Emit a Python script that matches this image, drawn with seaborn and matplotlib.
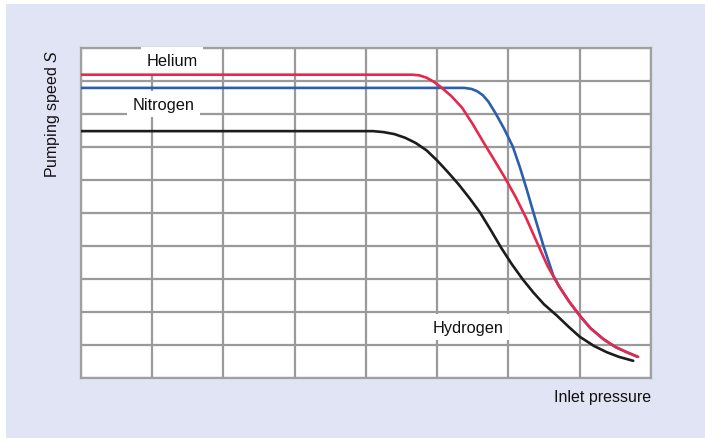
import matplotlib
matplotlib.use("Agg")
import matplotlib.pyplot as plt
import seaborn as sns
import pandas as pd
from matplotlib.patches import Rectangle

# ---- data (arbitrary grid units: x 0..8, y 0..10) ----
helium_x = [0, 4.65, 4.75, 4.85, 4.95, 5.05, 5.20, 5.35, 5.50, 5.65, 5.80, 5.95, 6.10, 6.25,
            6.40, 6.55, 6.70, 6.85, 7.00, 7.15, 7.33, 7.50, 7.65, 7.82]
helium_y = [9.20, 9.20, 9.18, 9.11, 8.99, 8.83, 8.55, 8.20, 7.70, 7.15, 6.62, 6.08, 5.50, 4.85,
            4.12, 3.40, 2.82, 2.33, 1.90, 1.52, 1.19, 0.95, 0.80, 0.65]

nitrogen_x = [0, 5.38, 5.48, 5.56, 5.64, 5.72, 5.82, 5.94, 6.06, 6.16, 6.26, 6.35, 6.49, 6.63,
              6.72, 6.85, 7.00, 7.15, 7.33, 7.50, 7.65, 7.80]
nitrogen_y = [8.80, 8.80, 8.77, 8.70, 8.58, 8.38, 8.03, 7.56, 7.03, 6.40, 5.70, 5.03, 4.02, 3.11,
              2.76, 2.33, 1.90, 1.52, 1.19, 0.95, 0.80, 0.66]

hydrogen_x = [0, 4.10, 4.25, 4.40, 4.55, 4.70, 4.85, 5.00, 5.15, 5.30, 5.45, 5.60, 5.75, 5.90,
              6.05, 6.20, 6.35, 6.50, 6.68, 6.85, 7.00, 7.20, 7.38, 7.55, 7.75]
hydrogen_y = [7.49, 7.49, 7.46, 7.40, 7.29, 7.13, 6.91, 6.60, 6.25, 5.88, 5.47, 5.03, 4.50, 3.95,
              3.45, 3.00, 2.60, 2.24, 1.90, 1.55, 1.26, 0.98, 0.79, 0.65, 0.53]

gases = ["Hydrogen", "Nitrogen", "Helium"]
colors = {"Hydrogen": "#1c1c1c", "Nitrogen": "#2b5fae", "Helium": "#e6284c"}
label_pos = {"Helium": (1.28, 9.63), "Nitrogen": (1.16, 8.31), "Hydrogen": (5.43, 1.55)}

x_ticks = list(range(0, 9))
y_ticks = list(range(0, 11))

series = {"Hydrogen": (hydrogen_x, hydrogen_y),
          "Nitrogen": (nitrogen_x, nitrogen_y),
          "Helium": (helium_x, helium_y)}
frames = []
for g in gases:
    xs, ys = series[g]
    frames.append(pd.DataFrame({"x": xs, "y": ys, "gas": g}))
df = pd.concat(frames, ignore_index=True)

# ---- styling ----
sns.set_theme(style="white")
plt.rcParams["font.family"] = ["Liberation Sans", "DejaVu Sans"]
plt.rcParams["mathtext.fontset"] = "custom"
plt.rcParams["mathtext.rm"] = "Liberation Sans"
plt.rcParams["mathtext.it"] = "Liberation Sans:italic"

bg = "#e1e4f5"
fig = plt.figure(figsize=(7.05, 4.39), dpi=100, facecolor="white")
bgrect = Rectangle((6 / 705, 0), 1, 1 - 5 / 439, transform=fig.transFigure,
                   facecolor=bg, edgecolor="none", zorder=-10)
fig.patches.append(bgrect)

ax = fig.add_axes([80.7 / 705, 1 - 379.3 / 439, (651 - 80.7) / 705, (379.3 - 49.3) / 439])
ax.set_zorder(1)
ax.set_facecolor("white")

for g in gases:
    sub = df[df.gas == g]
    sns.lineplot(data=sub, x="x", y="y", color=colors[g], sort=False,
                 linewidth=1.9, ax=ax, zorder=5, legend=False)
for ln in ax.lines:
    ln.set_solid_joinstyle("round")

ax.set_xlim(x_ticks[0], x_ticks[-1])
ax.set_ylim(y_ticks[0], y_ticks[-1])
ax.set_xticks(x_ticks)
ax.set_yticks(y_ticks)
ax.tick_params(length=0, labelbottom=False, labelleft=False)
ax.grid(True, color="#9a9a9a", linewidth=1.6, zorder=1)
ax.set_axisbelow(True)
for s in ax.spines.values():
    s.set_color("#a0a0a0")
    s.set_linewidth(1.6)
ax.set_xlabel("")
ax.set_ylabel("")

for g in gases:
    x, y = label_pos[g]
    ax.text(x, y, g, ha="center", va="center", fontsize=11.8, color="#111111", zorder=4,
            bbox=dict(boxstyle="square,pad=0.35", facecolor="white", edgecolor="none"))

fig.text(53 / 705, 1 - 50 / 439, "Pumping speed $\\mathit{S}$", rotation=90,
         ha="center", va="top", fontsize=11.5, color="#111111", zorder=2)
fig.text(651 / 705, 1 - 398 / 439, "Inlet pressure", ha="right", va="center",
         fontsize=11.5, color="#111111", zorder=2)

fig.savefig("out.png", dpi=100, facecolor=fig.get_facecolor())
